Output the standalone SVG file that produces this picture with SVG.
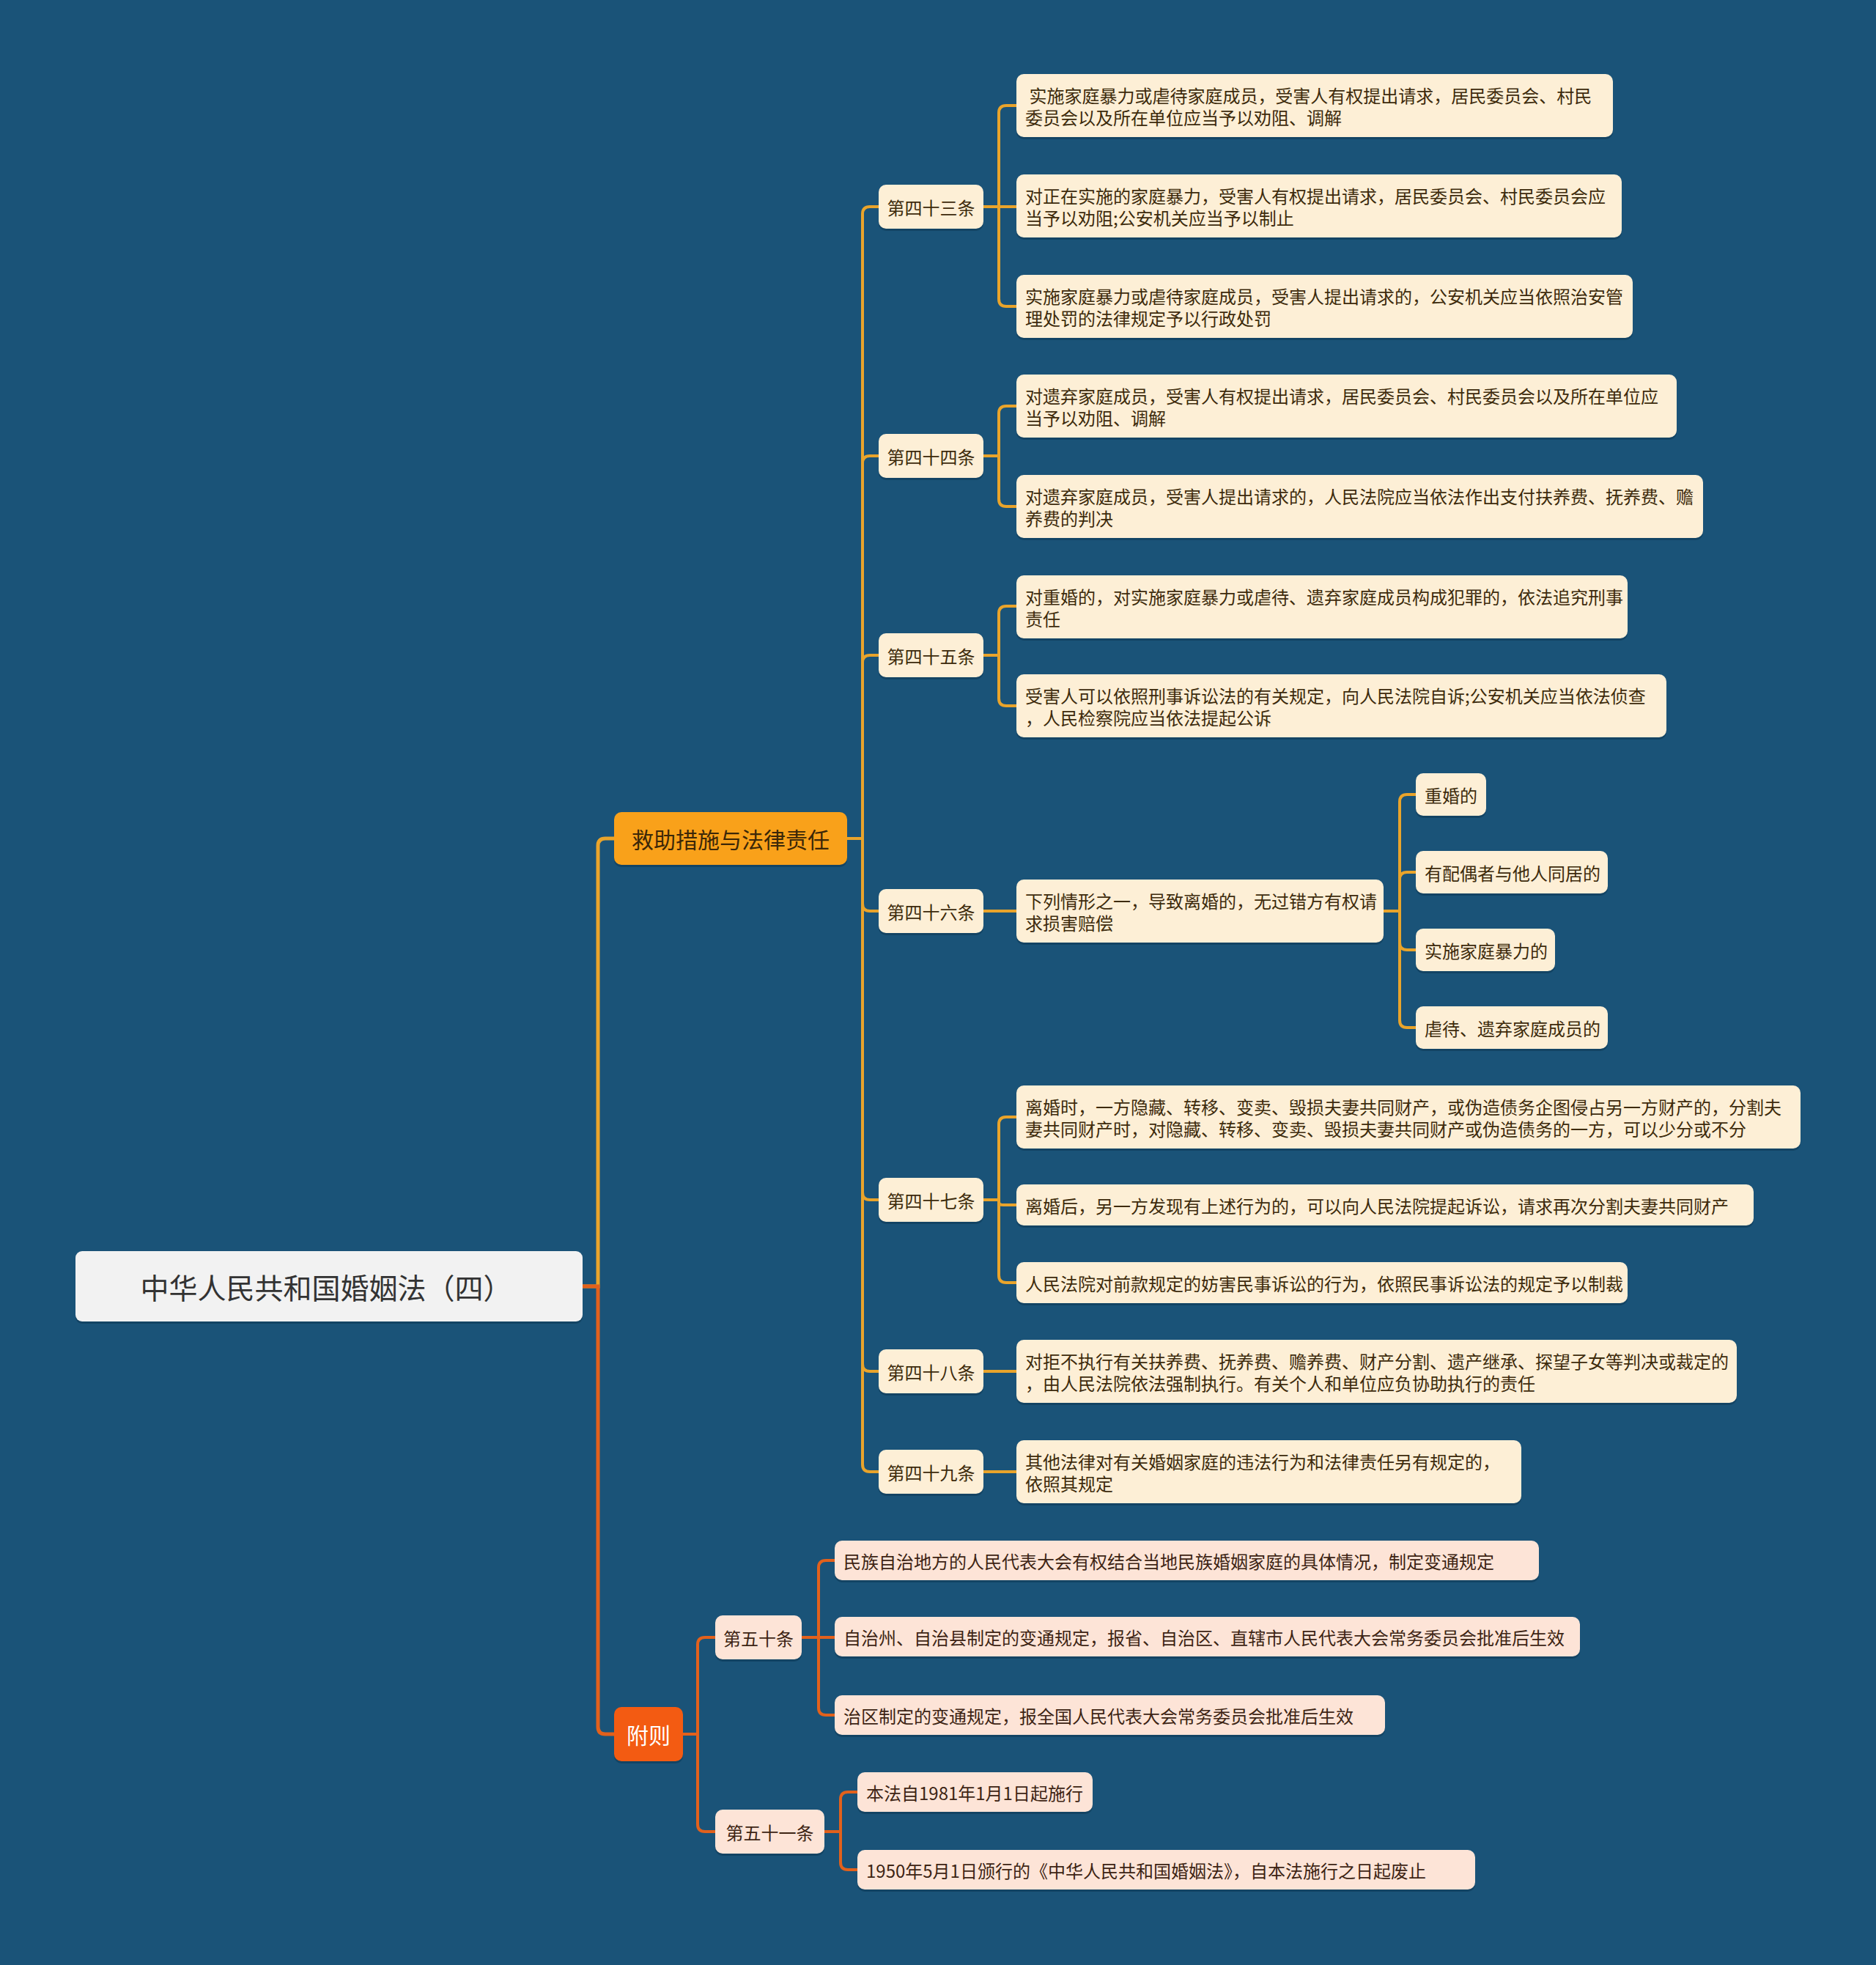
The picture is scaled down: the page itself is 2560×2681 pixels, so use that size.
<svg xmlns="http://www.w3.org/2000/svg" width="2560" height="2681" viewBox="0 0 2560 2681">
<style>
text{font-family:"Noto Sans CJK SC","Noto Sans",sans-serif;dominant-baseline:central}
.c1{fill:none;stroke:#e9a42b;stroke-width:4;stroke-linecap:round;stroke-linejoin:round}
.c2{fill:none;stroke:#e2611c;stroke-width:4;stroke-linecap:round;stroke-linejoin:round}
.c0a{fill:none;stroke:#e9a42b;stroke-width:5}
.c0b{fill:none;stroke:#e2611c;stroke-width:5}
.sh{fill:#0f3a56;opacity:.6}
.n1{fill:#fdefd6}
.n2{fill:#fde4d7}
.t1{fill:#3d2b0c;font-size:24px}
.t2{fill:#3d2414;font-size:24px}
</style>
<rect width="2560" height="2681" fill="#1a5378"/>
<g id="connectors">
<path class="c0a" d="M795 1755 H816 V1154 Q816 1144 826 1144 H838"/>
<path class="c0b" d="M795 1755 H816 V2356 Q816 2366 826 2366 H838"/>
<path class="c1" d="M1156 1144 H1177 V292 Q1177 282 1187 282 H1199"/>
<path class="c1" d="M1156 1144 H1177 V632 Q1177 622 1187 622 H1199"/>
<path class="c1" d="M1156 1144 H1177 V904 Q1177 894 1187 894 H1199"/>
<path class="c1" d="M1156 1144 H1177 V1233 Q1177 1243 1187 1243 H1199"/>
<path class="c1" d="M1156 1144 H1177 V1627 Q1177 1637 1187 1637 H1199"/>
<path class="c1" d="M1156 1144 H1177 V1861 Q1177 1871 1187 1871 H1199"/>
<path class="c1" d="M1156 1144 H1177 V1998 Q1177 2008 1187 2008 H1199"/>
<path class="c1" d="M1342 282 H1363 V154 Q1363 144 1373 144 H1387"/>
<path class="c1" d="M1342 282 H1387"/>
<path class="c1" d="M1342 282 H1363 V408 Q1363 418 1373 418 H1387"/>
<path class="c1" d="M1342 622 H1363 V564 Q1363 554 1373 554 H1387"/>
<path class="c1" d="M1342 622 H1363 V681 Q1363 691 1373 691 H1387"/>
<path class="c1" d="M1342 894 H1363 V837 Q1363 827 1373 827 H1387"/>
<path class="c1" d="M1342 894 H1363 V953 Q1363 963 1373 963 H1387"/>
<path class="c1" d="M1342 1243 H1387"/>
<path class="c1" d="M1888 1243 H1910 V1094 Q1910 1084 1920 1084 H1932"/>
<path class="c1" d="M1888 1243 H1910 V1200 Q1910 1190 1920 1190 H1932"/>
<path class="c1" d="M1888 1243 H1910 V1286 Q1910 1296 1920 1296 H1932"/>
<path class="c1" d="M1888 1243 H1910 V1392 Q1910 1402 1920 1402 H1932"/>
<path class="c1" d="M1342 1637 H1363 V1534 Q1363 1524 1373 1524 H1387"/>
<path class="c1" d="M1342 1637 H1363 V1640 Q1363 1644 1369 1644 H1387"/>
<path class="c1" d="M1342 1637 H1363 V1740 Q1363 1750 1373 1750 H1387"/>
<path class="c1" d="M1342 1871 H1387"/>
<path class="c1" d="M1342 2008 H1387"/>
<path class="c2" d="M932 2366 H952 V2244 Q952 2234 962 2234 H976"/>
<path class="c2" d="M932 2366 H952 V2489 Q952 2499 962 2499 H976"/>
<path class="c2" d="M1094 2234 H1117 V2139 Q1117 2129 1127 2129 H1139"/>
<path class="c2" d="M1094 2234 H1139"/>
<path class="c2" d="M1094 2234 H1117 V2330 Q1117 2340 1127 2340 H1139"/>
<path class="c2" d="M1125 2499 H1147 V2455 Q1147 2445 1157 2445 H1170"/>
<path class="c2" d="M1125 2499 H1147 V2541 Q1147 2551 1157 2551 H1170"/>
</g>
<g id="root">
<rect class="sh" x="103" y="1710" width="692" height="96" rx="9"/>
<rect x="103" y="1707" width="692" height="96" rx="9" fill="#f2f2f2"/>
<text x="445" y="1755" font-size="39" fill="#333333" text-anchor="middle">中华人民共和国婚姻法（四）</text>
</g>
<g id="b1">
<rect class="sh" x="838" y="1111" width="318" height="72" rx="10"/>
<rect x="838" y="1108" width="318" height="72" rx="10" fill="#f9a11a"/>
<text x="997" y="1144" font-size="30" fill="#3b2708" text-anchor="middle">救助措施与法律责任</text>
</g>
<g id="b2">
<rect class="sh" x="838" y="2332" width="94" height="74" rx="10"/>
<rect x="838" y="2329" width="94" height="74" rx="10" fill="#f35b12"/>
<text x="885" y="2366" font-size="30" fill="#ffffff" text-anchor="middle">附则</text>
</g>
<g id="a43">
<rect class="sh" x="1199" y="255" width="143" height="60" rx="10"/>
<rect class="n1" x="1199" y="252" width="143" height="60" rx="10"/>
<text class="t1" x="1270.5" y="282" text-anchor="middle">第四十三条</text>
</g>
<g id="a44">
<rect class="sh" x="1199" y="595" width="143" height="60" rx="10"/>
<rect class="n1" x="1199" y="592" width="143" height="60" rx="10"/>
<text class="t1" x="1270.5" y="622" text-anchor="middle">第四十四条</text>
</g>
<g id="a45">
<rect class="sh" x="1199" y="867" width="143" height="60" rx="10"/>
<rect class="n1" x="1199" y="864" width="143" height="60" rx="10"/>
<text class="t1" x="1270.5" y="894" text-anchor="middle">第四十五条</text>
</g>
<g id="a46">
<rect class="sh" x="1199" y="1216" width="143" height="60" rx="10"/>
<rect class="n1" x="1199" y="1213" width="143" height="60" rx="10"/>
<text class="t1" x="1270.5" y="1243" text-anchor="middle">第四十六条</text>
</g>
<g id="a47">
<rect class="sh" x="1199" y="1610" width="143" height="60" rx="10"/>
<rect class="n1" x="1199" y="1607" width="143" height="60" rx="10"/>
<text class="t1" x="1270.5" y="1637" text-anchor="middle">第四十七条</text>
</g>
<g id="a48">
<rect class="sh" x="1199" y="1844" width="143" height="60" rx="10"/>
<rect class="n1" x="1199" y="1841" width="143" height="60" rx="10"/>
<text class="t1" x="1270.5" y="1871" text-anchor="middle">第四十八条</text>
</g>
<g id="a49">
<rect class="sh" x="1199" y="1981" width="143" height="60" rx="10"/>
<rect class="n1" x="1199" y="1978" width="143" height="60" rx="10"/>
<text class="t1" x="1270.5" y="2008" text-anchor="middle">第四十九条</text>
</g>
<g id="l43a">
<rect class="sh" x="1387" y="104" width="814" height="86" rx="10"/>
<rect class="n1" x="1387" y="101" width="814" height="86" rx="10"/>
<text class="t1" x="1399" y="129" xml:space="preserve"> 实施家庭暴力或虐待家庭成员，受害人有权提出请求，居民委员会、村民</text>
<text class="t1" x="1399" y="159">委员会以及所在单位应当予以劝阻、调解</text>
</g>
<g id="l43b">
<rect class="sh" x="1387" y="241" width="826" height="86" rx="10"/>
<rect class="n1" x="1387" y="238" width="826" height="86" rx="10"/>
<text class="t1" x="1399" y="266">对正在实施的家庭暴力，受害人有权提出请求，居民委员会、村民委员会应</text>
<text class="t1" x="1399" y="296">当予以劝阻;公安机关应当予以制止</text>
</g>
<g id="l43c">
<rect class="sh" x="1387" y="378" width="841" height="86" rx="10"/>
<rect class="n1" x="1387" y="375" width="841" height="86" rx="10"/>
<text class="t1" x="1399" y="403">实施家庭暴力或虐待家庭成员，受害人提出请求的，公安机关应当依照治安管</text>
<text class="t1" x="1399" y="433">理处罚的法律规定予以行政处罚</text>
</g>
<g id="l44a">
<rect class="sh" x="1387" y="514" width="901" height="86" rx="10"/>
<rect class="n1" x="1387" y="511" width="901" height="86" rx="10"/>
<text class="t1" x="1399" y="539">对遗弃家庭成员，受害人有权提出请求，居民委员会、村民委员会以及所在单位应</text>
<text class="t1" x="1399" y="569">当予以劝阻、调解</text>
</g>
<g id="l44b">
<rect class="sh" x="1387" y="651" width="937" height="86" rx="10"/>
<rect class="n1" x="1387" y="648" width="937" height="86" rx="10"/>
<text class="t1" x="1399" y="676">对遗弃家庭成员，受害人提出请求的，人民法院应当依法作出支付扶养费、抚养费、赡</text>
<text class="t1" x="1399" y="706">养费的判决</text>
</g>
<g id="l45a">
<rect class="sh" x="1387" y="788" width="834" height="86" rx="10"/>
<rect class="n1" x="1387" y="785" width="834" height="86" rx="10"/>
<text class="t1" x="1399" y="813">对重婚的，对实施家庭暴力或虐待、遗弃家庭成员构成犯罪的，依法追究刑事</text>
<text class="t1" x="1399" y="843">责任</text>
</g>
<g id="l45b">
<rect class="sh" x="1387" y="923" width="887" height="86" rx="10"/>
<rect class="n1" x="1387" y="920" width="887" height="86" rx="10"/>
<text class="t1" x="1399" y="948">受害人可以依照刑事诉讼法的有关规定，向人民法院自诉;公安机关应当依法侦查</text>
<text class="t1" x="1399" y="978">，人民检察院应当依法提起公诉</text>
</g>
<g id="l46">
<rect class="sh" x="1387" y="1203" width="501" height="86" rx="10"/>
<rect class="n1" x="1387" y="1200" width="501" height="86" rx="10"/>
<text class="t1" x="1399" y="1228">下列情形之一，导致离婚的，无过错方有权请</text>
<text class="t1" x="1399" y="1258">求损害赔偿</text>
</g>
<g id="l46a">
<rect class="sh" x="1932" y="1058" width="96" height="58" rx="10"/>
<rect class="n1" x="1932" y="1055" width="96" height="58" rx="10"/>
<text class="t1" x="1944" y="1084">重婚的</text>
</g>
<g id="l46b">
<rect class="sh" x="1932" y="1164" width="262" height="58" rx="10"/>
<rect class="n1" x="1932" y="1161" width="262" height="58" rx="10"/>
<text class="t1" x="1944" y="1190">有配偶者与他人同居的</text>
</g>
<g id="l46c">
<rect class="sh" x="1932" y="1270" width="190" height="58" rx="10"/>
<rect class="n1" x="1932" y="1267" width="190" height="58" rx="10"/>
<text class="t1" x="1944" y="1296">实施家庭暴力的</text>
</g>
<g id="l46d">
<rect class="sh" x="1932" y="1376" width="262" height="58" rx="10"/>
<rect class="n1" x="1932" y="1373" width="262" height="58" rx="10"/>
<text class="t1" x="1944" y="1402">虐待、遗弃家庭成员的</text>
</g>
<g id="l47a">
<rect class="sh" x="1387" y="1484" width="1070" height="86" rx="10"/>
<rect class="n1" x="1387" y="1481" width="1070" height="86" rx="10"/>
<text class="t1" x="1399" y="1509">离婚时，一方隐藏、转移、变卖、毁损夫妻共同财产，或伪造债务企图侵占另一方财产的，分割夫</text>
<text class="t1" x="1399" y="1539">妻共同财产时，对隐藏、转移、变卖、毁损夫妻共同财产或伪造债务的一方，可以少分或不分</text>
</g>
<g id="l47b">
<rect class="sh" x="1387" y="1619" width="1006" height="56" rx="10"/>
<rect class="n1" x="1387" y="1616" width="1006" height="56" rx="10"/>
<text class="t1" x="1399" y="1644">离婚后，另一方发现有上述行为的，可以向人民法院提起诉讼，请求再次分割夫妻共同财产</text>
</g>
<g id="l47c">
<rect class="sh" x="1387" y="1725" width="834" height="56" rx="10"/>
<rect class="n1" x="1387" y="1722" width="834" height="56" rx="10"/>
<text class="t1" x="1399" y="1750">人民法院对前款规定的妨害民事诉讼的行为，依照民事诉讼法的规定予以制裁</text>
</g>
<g id="l48">
<rect class="sh" x="1387" y="1831" width="983" height="86" rx="10"/>
<rect class="n1" x="1387" y="1828" width="983" height="86" rx="10"/>
<text class="t1" x="1399" y="1856">对拒不执行有关扶养费、抚养费、赡养费、财产分割、遗产继承、探望子女等判决或裁定的</text>
<text class="t1" x="1399" y="1886">，由人民法院依法强制执行。有关个人和单位应负协助执行的责任</text>
</g>
<g id="l49">
<rect class="sh" x="1387" y="1968" width="689" height="86" rx="10"/>
<rect class="n1" x="1387" y="1965" width="689" height="86" rx="10"/>
<text class="t1" x="1399" y="1993">其他法律对有关婚姻家庭的违法行为和法律责任另有规定的，</text>
<text class="t1" x="1399" y="2023">依照其规定</text>
</g>
<g id="a50">
<rect class="sh" x="976" y="2207" width="118" height="60" rx="10"/>
<rect class="n2" x="976" y="2204" width="118" height="60" rx="10"/>
<text class="t2" x="1035" y="2234" text-anchor="middle">第五十条</text>
</g>
<g id="a51">
<rect class="sh" x="976" y="2472" width="149" height="60" rx="10"/>
<rect class="n2" x="976" y="2469" width="149" height="60" rx="10"/>
<text class="t2" x="1050.5" y="2499" text-anchor="middle">第五十一条</text>
</g>
<g id="l50a">
<rect class="sh" x="1139" y="2105" width="961" height="54" rx="10"/>
<rect class="n2" x="1139" y="2102" width="961" height="54" rx="10"/>
<text class="t2" x="1151" y="2129">民族自治地方的人民代表大会有权结合当地民族婚姻家庭的具体情况，制定变通规定</text>
</g>
<g id="l50b">
<rect class="sh" x="1139" y="2209" width="1017" height="54" rx="10"/>
<rect class="n2" x="1139" y="2206" width="1017" height="54" rx="10"/>
<text class="t2" x="1151" y="2233">自治州、自治县制定的变通规定，报省、自治区、直辖市人民代表大会常务委员会批准后生效</text>
</g>
<g id="l50c">
<rect class="sh" x="1139" y="2316" width="751" height="54" rx="10"/>
<rect class="n2" x="1139" y="2313" width="751" height="54" rx="10"/>
<text class="t2" x="1151" y="2340">治区制定的变通规定，报全国人民代表大会常务委员会批准后生效</text>
</g>
<g id="l51a">
<rect class="sh" x="1170" y="2421" width="321" height="54" rx="10"/>
<rect class="n2" x="1170" y="2418" width="321" height="54" rx="10"/>
<text class="t2" x="1182" y="2445">本法自1981年1月1日起施行</text>
</g>
<g id="l51b">
<rect class="sh" x="1170" y="2527" width="843" height="54" rx="10"/>
<rect class="n2" x="1170" y="2524" width="843" height="54" rx="10"/>
<text class="t2" x="1182" y="2551">1950年5月1日颁行的《中华人民共和国婚姻法》，自本法施行之日起废止</text>
</g>
</svg>
